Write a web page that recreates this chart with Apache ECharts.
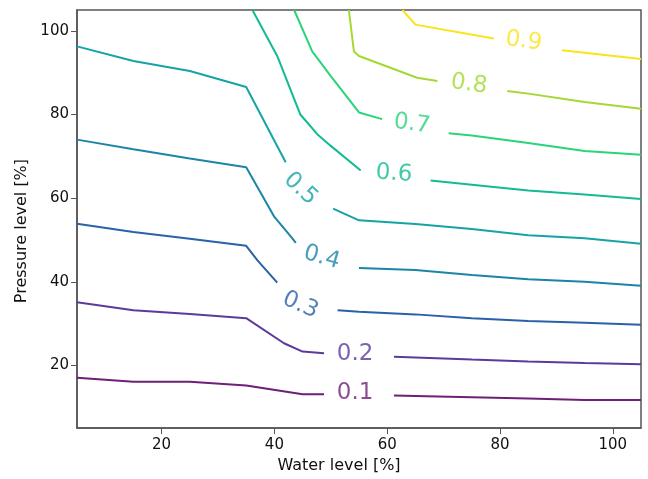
<!DOCTYPE html>
<html>
<head>
<meta charset="utf-8">
<script src="https://cdn.jsdelivr.net/npm/echarts@6/dist/echarts.min.js"></script>
<style>
  html, body { margin: 0; padding: 0; background: #fff; }
  #chart { width: 648px; height: 479px; }
</style>
</head>
<body>
<div id="chart"></div>
<script>
// contour levels and their colours
const levels = ['0.1', '0.2', '0.3', '0.4', '0.5', '0.6', '0.7', '0.8', '0.9'];
const colors = ['#6e1f78', '#5b3a9a', '#2a61a8', '#1a86a6', '#15a3a6', '#12bb92', '#2bd37a', '#a3d931', '#fbe31b'];

// each contour is split in two pieces around its inline label: [water, pressure]
const beforeLabel = [
    [[5, 17.05], [15, 16.1], [25, 16.1], [35, 15.2], [45, 13.1], [48.8, 13.1]],
    [[5, 35.1], [15, 33.2], [25, 32.3], [35, 31.3], [41.7, 25.3], [45, 23.3], [48.8, 22.9]],
    [[5, 53.9], [15, 51.9], [25, 50.3], [35, 48.6], [37, 45.1], [40.5, 39.8]],
    [[5, 74], [15, 71.7], [25, 69.5], [35, 67.4], [40, 55.5], [43, 50.7], [43.8, 49.3]],
    [[5, 96.3], [15, 92.8], [25, 90.4], [35, 86.6], [42, 68.6]],
    [[36.1, 105], [40.5, 94], [44.6, 80], [47.6, 75.3], [50, 72.5], [55.3, 66.6]],
    [[43.5, 105], [46.7, 95.1], [50, 89.2], [55, 80.5], [59.1, 78.9]],
    [[53.2, 105], [54.1, 95.1], [55, 94], [65.3, 88.8], [68.9, 88]],
    [[62.7, 105], [65, 101.5], [78.9, 98.2]]
];
const afterLabel = [
    [[61.2, 12.8], [65, 12.7], [75, 12.4], [85, 12.05], [95, 11.7], [105, 11.7]],
    [[61.2, 22.05], [65, 21.9], [75, 21.4], [85, 20.95], [95, 20.6], [105, 20.3]],
    [[51.2, 33.2], [55, 32.8], [65, 32.2], [75, 31.3], [85, 30.6], [95, 30.2], [105, 29.7]],
    [[55, 43.3], [65, 42.8], [75, 41.6], [85, 40.6], [95, 40], [105, 39.05]],
    [[50.4, 57.5], [55, 54.7], [65, 53.8], [75, 52.6], [85, 51.1], [95, 50.4], [105, 49.1]],
    [[67.7, 64.2], [75, 63.2], [85, 61.8], [95, 60.9], [105, 59.8]],
    [[70.9, 75.5], [75, 75], [85, 73.2], [95, 71.3], [105, 70.4]],
    [[81.3, 85.6], [85, 85], [95, 83], [105, 81.4]],
    [[91, 95.4], [105, 93.3]]
];

// where the inline labels sit and how they are turned
const labelX = [54.3, 54.3, 44.6, 48.4, 44.6, 61.2, 64.4, 74.5, 84.2];
const labelY = [13.3, 22.8, 34.4, 45.8, 62.2, 65.8, 77.7, 87.2, 97.5];
const labelRot = [0, 0, -24, -16, -43, -4, -8, -8, -8];

const xTicks = [20, 40, 60, 80, 100];
const yTicks = [20, 40, 60, 80, 100];

const chart = echarts.init(document.getElementById('chart'));

const series = [];
levels.forEach((lv, i) => {
    [beforeLabel[i], afterLabel[i]].forEach(part => {
        series.push({
            type: 'line',
            data: part,
            showSymbol: false,
            symbol: 'none',
            silent: true,
            lineStyle: { color: colors[i], width: 2 },
            z: 2
        });
    });
});
series.push({
    type: 'scatter',
    symbolSize: 0,
    silent: true,
    z: 3,
    data: levels.map((lv, i) => ({
        value: [labelX[i], labelY[i]],
        label: {
            show: true,
            formatter: lv,
            position: 'inside',
            rotate: labelRot[i],
            color: colors[i],
            fontSize: 23,
            fontFamily: 'DejaVu Sans'
        }
    }))
});

chart.setOption({
    animation: false,
    backgroundColor: '#fff',
    grid: {
        left: 77,
        right: 7,
        top: 10,
        bottom: 49,
        show: true,
        borderColor: '#555',
        borderWidth: 1.5
    },
    xAxis: {
        type: 'value',
        min: 5,
        max: 105,
        name: 'Water level [%]',
        nameLocation: 'middle',
        nameGap: 27,
        nameTextStyle: { color: '#111', fontSize: 16, fontFamily: 'DejaVu Sans', padding: [0, 40, 0, 0] },
        axisLine: { show: true, lineStyle: { color: '#555', width: 1.5 } },
        axisTick: { show: true, length: 6, lineStyle: { color: '#555' }, customValues: xTicks },
        axisLabel: { color: '#111', fontSize: 15, fontFamily: 'DejaVu Sans', margin: 10, customValues: xTicks },
        splitLine: { show: false }
    },
    yAxis: {
        type: 'value',
        min: 5,
        max: 105,
        name: 'Pressure level [%]',
        nameLocation: 'middle',
        nameGap: 45,
        nameRotate: 90,
        nameTextStyle: { color: '#111', fontSize: 16, fontFamily: 'DejaVu Sans', padding: [0, 24, 0, 0] },
        axisLine: { show: true, lineStyle: { color: '#555', width: 1.5 } },
        axisTick: { show: true, length: 6, lineStyle: { color: '#555' }, customValues: yTicks },
        axisLabel: { color: '#111', fontSize: 15, fontFamily: 'DejaVu Sans', margin: 8, customValues: yTicks },
        splitLine: { show: false }
    },
    series: series
});
</script>
</body>
</html>
